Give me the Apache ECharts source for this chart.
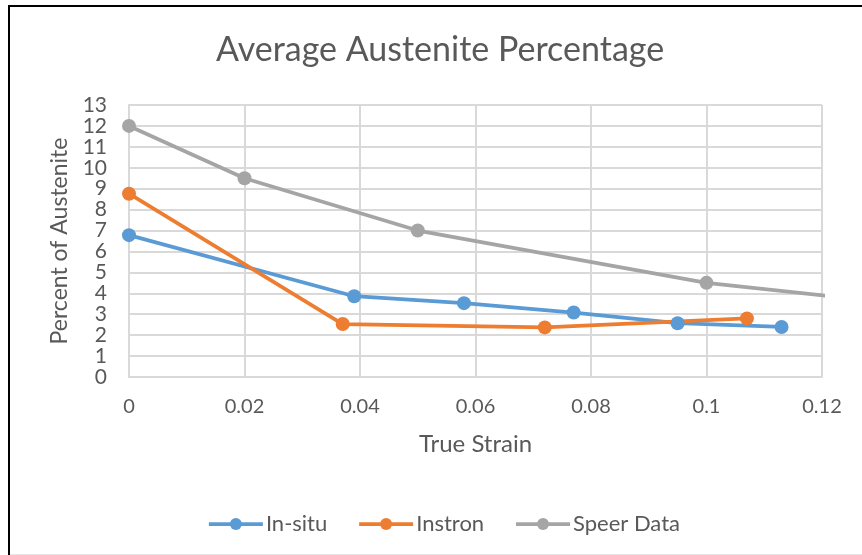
<!DOCTYPE html>
<html>
<head>
<meta charset="utf-8">
<script src="https://cdn.jsdelivr.net/npm/echarts@6/dist/echarts.min.js"></script>
<style>
  html, body { margin: 0; padding: 0; background: #fff; }
  #chart { width: 862px; height: 555px; }
</style>
</head>
<body>
<div id="chart"></div>
<script>
// Axis ticks
const xTicks = [0, 0.02, 0.04, 0.06, 0.08, 0.1, 0.12];
const yTicks = [0, 1, 2, 3, 4, 5, 6, 7, 8, 9, 10, 11, 12, 13];

// Measured series: [true strain, percent austenite]
const inSituStrain = [0, 0.039, 0.058, 0.077, 0.095, 0.113];
const inSituPct    = [6.78, 3.86, 3.53, 3.08, 2.57, 2.39];

const instronStrain = [0, 0.037, 0.072, 0.107];
const instronPct    = [8.76, 2.53, 2.37, 2.80];

const speerStrain = [0, 0.02, 0.05, 0.1, 0.15];
const speerPct    = [12.0, 9.5, 7.0, 4.5, 3.0];

const pair = (xs, ys) => xs.map((x, i) => [x, ys[i]]);

const FONT = 'Lato';
const TEXT = '#595959';
const GRID = '#d9d9d9';

const chart = echarts.init(document.getElementById('chart'), null, { renderer: 'canvas' });

function lineSeries(name, color, data) {
  return {
    name, type: 'line', data,
    symbol: 'circle', symbolSize: 14,
    showSymbol: true,
    clip: true,
    lineStyle: { color, width: 3.75 },
    itemStyle: { color },
    emphasis: { disabled: true },
    animation: false
  };
}

chart.setOption({
  animation: false,
  backgroundColor: '#ffffff',
  textStyle: { fontFamily: FONT },
  title: {
    text: 'Average Austenite Percentage',
    left: 211, top: 28,
    textStyle: { fontFamily: FONT, fontSize: 34, fontWeight: 'normal', color: TEXT }
  },
  legend: {
    left: 202, top: 508,
    itemWidth: 54, itemHeight: 15, itemGap: 30,
    lineStyle: { width: 3.75 },
    textStyle: { fontFamily: FONT, fontSize: 22, color: TEXT, padding: [0, 0, 0, -2] },
    data: ['In-situ', 'Instron', 'Speer Data']
  },
  grid: { left: 129, right: 40, top: 105, bottom: 178, containLabel: false },
  xAxis: {
    type: 'value',
    min: xTicks[0], max: xTicks[xTicks.length - 1], interval: xTicks[1] - xTicks[0],
    name: 'True Strain', nameLocation: 'middle', nameGap: 55,
    nameTextStyle: { fontFamily: FONT, fontSize: 24, color: TEXT },
    axisLine: { show: true, lineStyle: { color: GRID, width: 2 } },
    axisTick: { show: false },
    axisLabel: { margin: 20, fontFamily: FONT, fontSize: 20, color: TEXT },
    splitLine: { show: true, lineStyle: { color: GRID, width: 2 } }
  },
  yAxis: {
    type: 'value',
    min: yTicks[0], max: yTicks[yTicks.length - 1], interval: yTicks[1] - yTicks[0],
    name: 'Percent of Austenite', nameLocation: 'middle', nameGap: 58,
    nameTextStyle: { fontFamily: FONT, fontSize: 23, color: TEXT },
    axisLine: { show: true, lineStyle: { color: GRID, width: 2 } },
    axisTick: { show: false },
    axisLabel: { margin: 22, fontFamily: FONT, fontSize: 21, color: TEXT },
    splitLine: { show: true, lineStyle: { color: GRID, width: 2 } }
  },
  graphic: [
    { type: 'line', shape: { x1: 8, y1: 6, x2: 862, y2: 6 }, style: { stroke: '#000', lineWidth: 2 }, silent: true },
    { type: 'line', shape: { x1: 9, y1: 5, x2: 9, y2: 555 }, style: { stroke: '#000', lineWidth: 2 }, silent: true },
    { type: 'line', shape: { x1: 10, y1: 554.5, x2: 862, y2: 554.5 }, style: { stroke: '#e6e6e6', lineWidth: 1 }, silent: true }
  ],
  series: [
    lineSeries('In-situ', '#5b9bd5', pair(inSituStrain, inSituPct)),
    lineSeries('Instron', '#ed7d31', pair(instronStrain, instronPct)),
    lineSeries('Speer Data', '#a5a5a5', pair(speerStrain, speerPct))
  ]
});
</script>
</body>
</html>
